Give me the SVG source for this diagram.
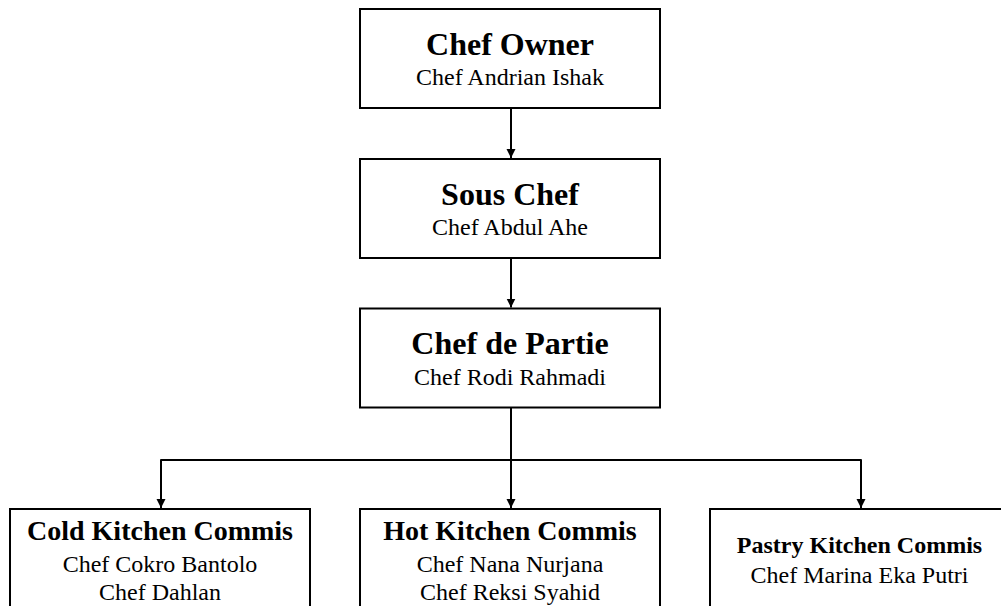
<svg xmlns="http://www.w3.org/2000/svg" width="1001" height="606" viewBox="0 0 1001 606">
<style>
.box{fill:#fff;stroke:#000;stroke-width:2}
.t{font-family:"Liberation Serif","Times New Roman",serif;font-weight:bold;fill:#000;text-anchor:middle}
.s{font-family:"Liberation Serif","Times New Roman",serif;font-size:24px;fill:#000;text-anchor:middle}
.c{fill:none;stroke:#000;stroke-width:2;stroke-linejoin:round}
</style>
<defs>
<marker id="arr" markerUnits="userSpaceOnUse" markerWidth="10" markerHeight="10" refX="9" refY="5" orient="auto">
<path d="M0,0.5 L9,5 L0,9.5 Z" fill="#000"/>
</marker>
</defs>
<rect width="1001" height="606" fill="#fff"/>
<g id="connectors">
<path class="c" d="M511,108 V158" marker-end="url(#arr)"/>
<path class="c" d="M511,258 V307.5" marker-end="url(#arr)"/>
<path class="c" d="M511,408 V508" marker-end="url(#arr)"/>
<path class="c" d="M161,508 V460 H861 V508" marker-end="url(#arr)"/>
<path class="c" d="M161,460 V508" marker-end="url(#arr)"/>
</g>
<g id="chef-owner">
<rect class="box" x="360" y="9" width="300" height="99"/>
<text class="t" x="510" y="55" font-size="32">Chef Owner</text>
<text class="s" x="510" y="85">Chef Andrian Ishak</text>
</g>
<g id="sous-chef">
<rect class="box" x="360" y="159" width="300" height="99"/>
<text class="t" x="510" y="205" font-size="32">Sous Chef</text>
<text class="s" x="510" y="235">Chef Abdul Ahe</text>
</g>
<g id="chef-de-partie">
<rect class="box" x="360" y="308.5" width="300" height="99"/>
<text class="t" x="510" y="353.5" font-size="32">Chef de Partie</text>
<text class="s" x="510" y="384.5">Chef Rodi Rahmadi</text>
</g>
<g id="cold-kitchen">
<rect class="box" x="10" y="509" width="300" height="120"/>
<text class="t" x="160" y="539.5" font-size="28">Cold Kitchen Commis</text>
<text class="s" x="160" y="571.5">Chef Cokro Bantolo</text>
<text class="s" x="160" y="600">Chef Dahlan</text>
</g>
<g id="hot-kitchen">
<rect class="box" x="360" y="509" width="300" height="120"/>
<text class="t" x="510" y="539.5" font-size="28">Hot Kitchen Commis</text>
<text class="s" x="510" y="571.5">Chef Nana Nurjana</text>
<text class="s" x="510" y="600">Chef Reksi Syahid</text>
</g>
<g id="pastry-kitchen">
<rect class="box" x="710" y="509" width="300" height="120"/>
<text class="t" x="859.5" y="552.5" font-size="24">Pastry Kitchen Commis</text>
<text class="s" x="859.5" y="583">Chef Marina Eka Putri</text>
</g>
</svg>
